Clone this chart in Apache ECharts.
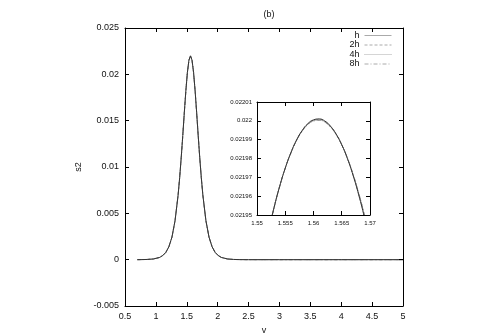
<!DOCTYPE html>
<html>
<head>
<meta charset="utf-8">
<script src="https://cdn.jsdelivr.net/npm/echarts@6/dist/echarts.min.js"></script>
<style>
  html, body { margin: 0; padding: 0; background: #fff; }
  #chart { width: 480px; height: 336px; }
</style>
</head>
<body>
<div id="chart"></div>
<script>
// main plot: s2 against v (all four step sizes coincide at this scale)
const mainV = [0.7, 0.76, 0.86, 0.96, 1.06, 1.11, 1.16, 1.21, 1.26, 1.31,
  1.36, 1.385, 1.41, 1.435, 1.46, 1.485, 1.51, 1.535, 1.56, 1.585,
  1.61, 1.635, 1.66, 1.685, 1.71, 1.735, 1.76, 1.81, 1.86, 1.91,
  1.96, 2.01, 2.06, 2.16, 2.26, 2.36, 2.5, 3, 4, 5]
const mainS = [0, 0.000007, 0.000023, 0.000075, 0.00024, 0.00044, 0.00078, 0.00139, 0.00243, 0.0042,
  0.00699, 0.00887, 0.011, 0.01337, 0.01585, 0.01822, 0.0202, 0.02153, 0.022, 0.02153,
  0.0202, 0.01822, 0.01585, 0.01337, 0.011, 0.00887, 0.00699, 0.0042, 0.00243, 0.00139,
  0.00078, 0.00044, 0.00024, 0.000075, 0.000023, 0.000007, 0, 0, 0, 0]

// inset: zoom on the peak
const insetV = [1.552, 1.553, 1.554, 1.555, 1.556, 1.557, 1.558, 1.559, 1.560, 1.561,
  1.562, 1.563, 1.564, 1.565, 1.566, 1.567, 1.568, 1.569, 1.570]
const insetH = [0.0219408, 0.0219537, 0.0219651, 0.0219749, 0.0219831, 0.0219898, 0.0219949, 0.0219985, 0.0220005, 0.0220010,
  0.0219999, 0.0219972, 0.0219930, 0.0219873, 0.0219800, 0.0219711, 0.0219607, 0.0219488, 0.0219352]
const insetH2 = [0.0219408, 0.0219537, 0.0219651, 0.0219749, 0.0219830, 0.0219897, 0.0219947, 0.0219983, 0.0220002, 0.0220007,
  0.0219996, 0.0219970, 0.0219929, 0.0219873, 0.0219801, 0.0219714, 0.0219612, 0.0219496, 0.0219362]
const insetH4 = [0.0219408, 0.0219537, 0.0219651, 0.0219748, 0.0219830, 0.0219896, 0.0219946, 0.0219981, 0.0220000, 0.0220005,
  0.0219994, 0.0219968, 0.0219928, 0.0219873, 0.0219803, 0.0219717, 0.0219616, 0.0219501, 0.0219368]
const insetH8 = [0.0219408, 0.0219537, 0.0219650, 0.0219748, 0.0219829, 0.0219895, 0.0219945, 0.0219980, 0.0219999, 0.0220003,
  0.0219993, 0.0219967, 0.0219927, 0.0219872, 0.0219802, 0.0219716, 0.0219616, 0.0219501, 0.0219368]

const seriesNames = ["h", "2h", "4h", "8h"]

const font = "Liberation Sans"
const ink = "#111"

const styles = {
  h: { color: "#333", type: "solid", width: 1 },
  "2h": { color: "#888", type: [3, 2], width: 1 },
  "4h": { color: "#999", type: [1, 1], width: 1 },
  "8h": { color: "#888", type: [4, 2, 1, 2], width: 1 },
}

function zip(xs, ys) {
  return xs.map((x, i) => [x, ys[i]])
}

function fmt(digits) {
  return v => String(+v.toFixed(digits))
}

function axisDef(gridIndex, pos, min, max, interval, showLabel, labelSize, digits, margin) {
  return {
    type: "value",
    gridIndex,
    position: pos,
    min, max, interval,
    z: 6,
    axisLine: { show: true, onZero: false, lineStyle: { color: "#000", width: 1 } },
    axisTick: { show: true, inside: true, length: 4, lineStyle: { color: "#000" } },
    axisLabel: {
      show: showLabel,
      fontFamily: font,
      fontSize: labelSize,
      color: ink,
      margin,
      formatter: fmt(digits),
    },
    splitLine: { show: false },
  }
}

const mainX = axisDef(0, "bottom", 0.5, 5, 0.5, true, 9, 2, 6)
mainX.name = "v"
mainX.nameLocation = "middle"
mainX.nameGap = 19
mainX.nameTextStyle = { fontFamily: font, fontSize: 9, color: ink }

const mainY = axisDef(0, "left", -0.005, 0.025, 0.005, true, 9, 3, 6)
mainY.name = "s2"
mainY.nameLocation = "middle"
mainY.nameGap = 42
mainY.nameTextStyle = { fontFamily: font, fontSize: 9, color: ink }

const mainSeries = seriesNames.map(name => ({
  name,
  type: "line",
  xAxisIndex: 0,
  yAxisIndex: 0,
  data: zip(mainV, mainS),
  symbol: "none",
  lineStyle: styles[name],
  itemStyle: { color: styles[name].color },
  z: name === "h" ? 3 : 2,
}))

const insetData = { h: insetH, "2h": insetH2, "4h": insetH4, "8h": insetH8 }
const insetSeries = seriesNames.map(name => ({
  name,
  type: "line",
  xAxisIndex: 2,
  yAxisIndex: 2,
  data: zip(insetV, insetData[name]),
  symbol: "none",
  smooth: true,
  clip: true,
  lineStyle: styles[name],
  itemStyle: { color: styles[name].color },
  z: name === "h" ? 5 : 4,
}))

// legend samples look lighter than the curves in the original
const legendData = seriesNames.map(name => ({
  name,
  lineStyle: { color: "#aaa", width: 1, type: styles[name].type },
}))

const chart = echarts.init(document.getElementById("chart"), null, { renderer: "canvas" })

chart.setOption({
  animation: false,
  backgroundColor: "#fff",
  title: {
    text: "(b)",
    left: 264,
    top: 5,
    textAlign: "center",
    textStyle: { fontFamily: font, fontSize: 9, fontWeight: "normal", color: ink },
  },
  legend: {
    data: legendData,
    orient: "vertical",
    align: "right",
    right: 88,
    top: 31,
    padding: 0,
    itemWidth: 27,
    itemHeight: 9,
    itemGap: 0.5,
    itemStyle: { opacity: 0 },
    lineStyle: { width: 1 },
    textStyle: { fontFamily: font, fontSize: 9, color: ink },
  },
  grid: [
    { left: 125, top: 28, width: 278, height: 278, outerBoundsMode: "none" },
    { left: 257, top: 102, width: 113, height: 113, outerBoundsMode: "none" },
  ],
  xAxis: [
    mainX,
    axisDef(0, "top", 0.5, 5, 0.5, false, 9, 2, 5),
    axisDef(1, "bottom", 1.55, 1.57, 0.005, true, 6, 3, 5),
    axisDef(1, "top", 1.55, 1.57, 0.005, false, 6, 3, 5),
  ],
  yAxis: [
    mainY,
    axisDef(0, "right", -0.005, 0.025, 0.005, false, 9, 3, 6),
    axisDef(1, "left", 0.02195, 0.02201, 0.00001, true, 6, 5, 5),
    axisDef(1, "right", 0.02195, 0.02201, 0.00001, false, 6, 5, 5),
  ],
  series: [...mainSeries, ...insetSeries],
})
</script>
</body>
</html>
